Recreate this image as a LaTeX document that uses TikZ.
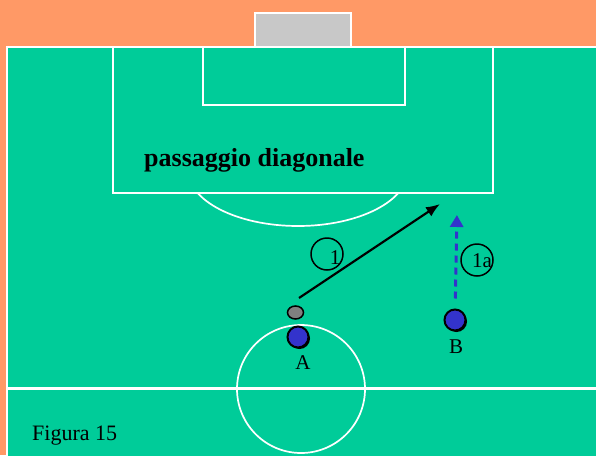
\documentclass[tikz,border=0pt]{standalone}
\usepackage{fontspec}
\setmainfont{Liberation Serif}
\usetikzlibrary{arrows.meta,shadows,shapes.geometric}
\definecolor{pitch}{RGB}{0,204,153}
\definecolor{track}{RGB}{255,153,102}
\definecolor{goalgrey}{RGB}{200,200,200}
\definecolor{teamblue}{RGB}{51,51,204}
\def\labelsize{\fontsize{21}{21}\selectfont}

\begin{document}
\begin{tikzpicture}[x=1pt,y=-1pt]
\tikzstyle{line}=[draw=white,line width=2.2pt]
\tikzstyle{thin line}=[draw=white,line width=1.7pt]
\tikzstyle{player}=[circle,draw=black,line width=2pt,fill=teamblue,minimum size=21pt,inner sep=0pt,
  drop shadow={shadow xshift=1.5pt,shadow yshift=-1.5pt,fill=black,opacity=1}]
\tikzstyle{ball}=[ellipse,draw=black,line width=1.5pt,fill=gray,minimum width=16pt,minimum height=13pt,inner sep=0pt]
\tikzstyle{tag}=[circle,draw=black,line width=1.5pt,minimum size=32pt,inner sep=0pt]
\tikzstyle{lbl}=[font=\labelsize,inner sep=0pt]

\useasboundingbox (0,0) rectangle (596,455);
\fill[track] (0,0) rectangle (596,455);

% pitch and markings
\fill[goalgrey] (255,13) rectangle (351,47);
\draw[line] (255,47) -- (255,13) -- (351,13) -- (351,47);
\fill[pitch] (7,47) rectangle (600,460);
\draw[line] (600,47) -- (7,47) -- (7,460);
\draw[line] (113,47) rectangle (493,193);
\draw[line] (203,47) rectangle (405,105);
\begin{scope}
\clip (0,194) rectangle (596,455);
\draw[thin line] (298,170) ellipse [x radius=110, y radius=56];
\end{scope}
\draw[line, line width=3pt] (7,388) -- (600,388);
\draw[thin line] (301,389) circle [radius=64];

\node (title) [anchor=base west, inner sep=0pt, font=\fontsize{26}{26}\selectfont\bfseries] at (144,166) {passaggio diagonale};
\node (fig) [anchor=base west, inner sep=0pt, font=\fontsize{22}{22}\selectfont] at (32,440) {Figura 15};

% players and ball
\node (ball) [ball] at (295.5,312.5) {};
\node (plA) [player] at (298,337) {};
\node (plB) [player] at (455,320) {};
\node (labA) [lbl, xshift=5pt, yshift=-26pt] at (plA) {A};
\node (labB) [lbl, xshift=1pt, yshift=-27pt] at (plB) {B};

\coordinate (passfrom) at (299,298);
\coordinate (passto) at (440,204);
\path (plB) + (2,-110) coordinate (runto);

\draw[-{Latex[length=14pt,width=11pt]}, line width=2.2pt] (passfrom) -- (passto);
\draw[-{Triangle[length=12pt,width=13pt,sep=5pt]}, line width=3pt, teamblue, dash pattern=on 7pt off 5pt, shorten <=10pt] (plB) -- (runto);

% step tags
\node (tag1) [tag] at (327,254) {};
\node (tag1a) [tag] at (477,260) {};
\node (txt1) [lbl, xshift=8pt, yshift=-4pt] at (tag1) {1};
\node (txt1a) [lbl, xshift=5pt, yshift=-1pt] at (tag1a) {1a};

\end{tikzpicture}
\end{document}
